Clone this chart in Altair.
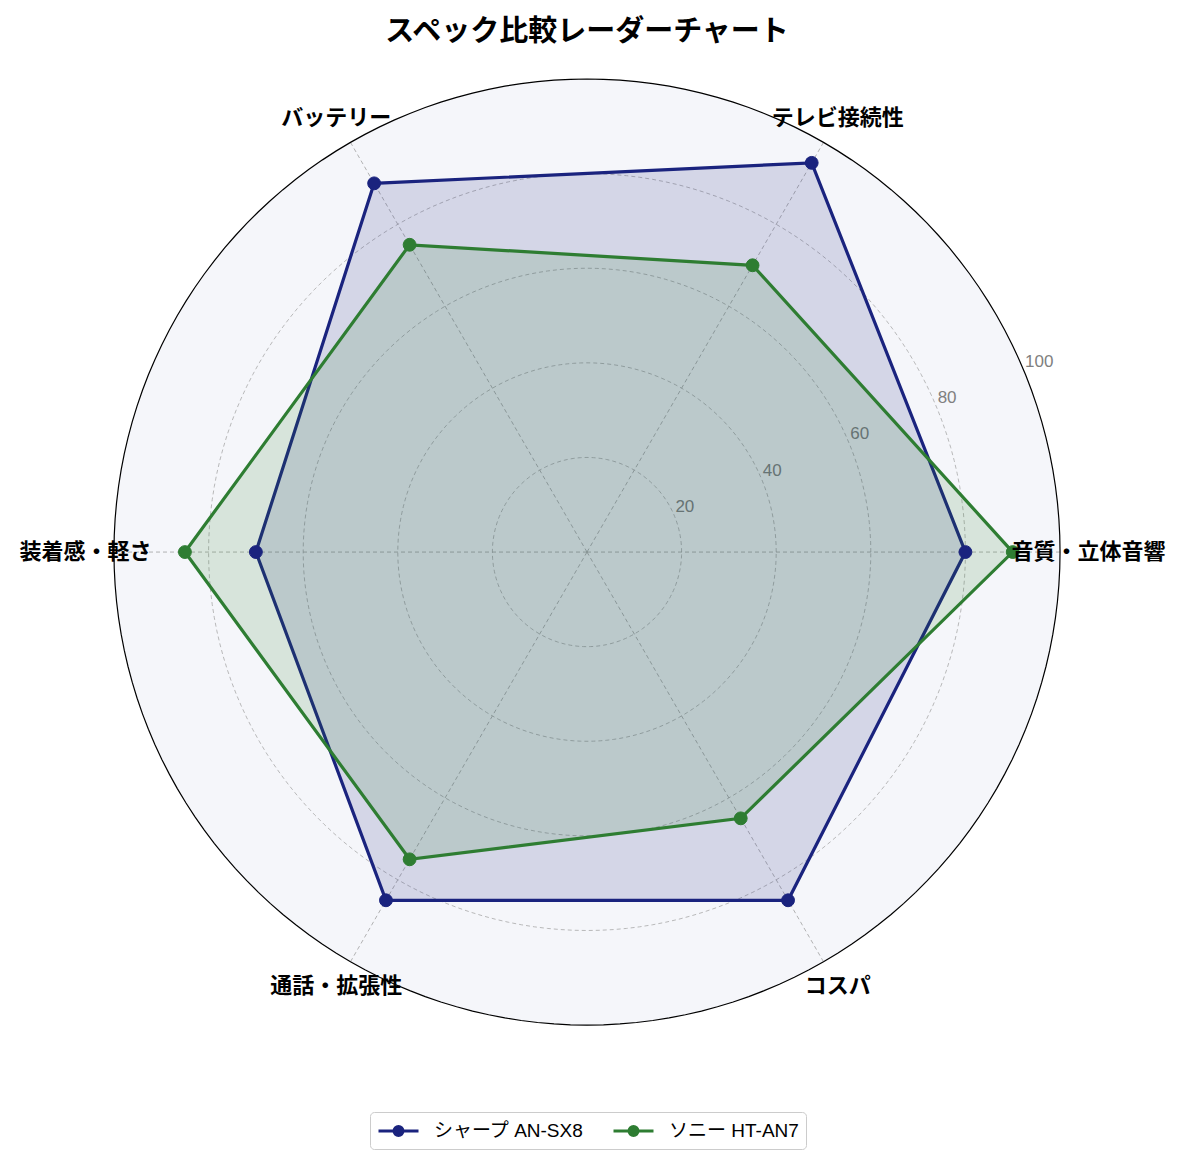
import altair as alt
import pandas as pd

# ---------------- data ----------------
categories = ["音質・立体音響", "テレビ接続性", "バッテリー", "装着感・軽さ", "通話・拡張性", "コスパ"]
series_names = ["シャープ AN-SX8", "ソニー HT-AN7"]
sharp_values = [80, 95, 90, 70, 85, 85]
sony_values = [90, 70, 75, 85, 75, 65]
radial_ticks = [20, 40, 60, 80, 100]

# ---------------- style ----------------
series_colors = ["#1a237e", "#2e7d32"]
FONT = "Noto Sans CJK JP"
LATIN_FONT = "Liberation Sans, Noto Sans CJK JP"
N = len(categories)
RMAX = radial_ticks[-1]
LABEL_R = 106
TICK_ANGLE_DEG = 22.5

PX_PER_UNIT = 4.73
X_DOM = [-122.4, 122.4]
Y_DOM = [-126.4, 104.65]
W = round((X_DOM[1] - X_DOM[0]) * PX_PER_UNIT)
H = round((Y_DOM[1] - Y_DOM[0]) * PX_PER_UNIT)

# ---------------- tables ----------------
rows = []
for s, vals in zip(series_names, [sharp_values, sony_values]):
    for i, v in enumerate(vals):
        rows.append({"series": s, "idx": i, "value": v})
df = pd.DataFrame(rows)
cat_df = pd.DataFrame({"category": categories, "idx": list(range(N))})
tick_df = pd.DataFrame({"tick": radial_ticks})
circle_df = pd.DataFrame([{"r": t, "deg": d} for t in radial_ticks for d in range(0, 360, 2)])

ANG = f"datum.idx * 2 * PI / {N}"

xs = alt.Scale(domain=X_DOM, nice=False, zero=False)
ys = alt.Scale(domain=Y_DOM, nice=False, zero=False)


def XY(xf="x", yf="y"):
    return dict(
        x=alt.X(f"{xf}:Q", scale=xs, axis=None),
        y=alt.Y(f"{yf}:Q", scale=ys, axis=None),
    )


circ = alt.Chart(circle_df).transform_calculate(
    x="datum.r * cos(datum.deg * PI / 180)",
    y="datum.r * sin(datum.deg * PI / 180)",
)

bg = circ.transform_filter(f"datum.r == {RMAX}").mark_line(
    interpolate="linear-closed", fill="#f5f6fa", strokeOpacity=0
).encode(order="deg:Q", **XY())

grid = circ.transform_filter(f"datum.r < {RMAX}").mark_line(
    interpolate="linear-closed", stroke="#a8a8a8", strokeWidth=0.8, strokeDash=[4, 3]
).encode(detail="r:N", order="deg:Q", **XY())

outer = circ.transform_filter(f"datum.r == {RMAX}").mark_line(
    interpolate="linear-closed", stroke="#000000", strokeWidth=1.2
).encode(order="deg:Q", **XY())

spokes = alt.Chart(cat_df).transform_calculate(
    x0="0", y0="0",
    x1=f"{RMAX} * cos({ANG})",
    y1=f"{RMAX} * sin({ANG})",
).mark_rule(stroke="#a0a0a0", strokeWidth=0.8, strokeDash=[4, 3]).encode(
    x=alt.X("x0:Q", scale=xs, axis=None),
    y=alt.Y("y0:Q", scale=ys, axis=None),
    x2="x1:Q",
    y2="y1:Q",
)

tick_labels = alt.Chart(tick_df).transform_calculate(
    x=f"datum.tick * cos({TICK_ANGLE_DEG} * PI / 180)",
    y=f"datum.tick * sin({TICK_ANGLE_DEG} * PI / 180)",
).mark_text(
    align="left", baseline="bottom", color="#808080", fontSize=17, font=LATIN_FONT, dx=1
).encode(text="tick:Q", **XY())

data_xy = alt.Chart(df).transform_calculate(
    x=f"datum.value * cos({ANG})",
    y=f"datum.value * sin({ANG})",
)

polys = []
for name, col in zip(series_names, series_colors):
    polys.append(
        data_xy.transform_filter(alt.datum.series == name).mark_line(
            interpolate="linear-closed", fill=col, fillOpacity=0.15,
            stroke=col, strokeWidth=3.2,
        ).encode(order="idx:Q", **XY())
    )

cscale = alt.Scale(domain=series_names, range=series_colors)
sym_path = "M-1,0L3,0M1.45,0A0.45,0.45,0,1,1,0.55,0A0.45,0.45,0,1,1,1.45,0Z"
leg = alt.Legend(
    title=None, orient="none", legendX=362, legendY=1055, direction="horizontal",
    symbolType=sym_path, symbolSize=400, symbolStrokeWidth=3,
    labelFontSize=19, labelFont=LATIN_FONT, labelColor="#000000", labelOffset=34,
    columnPadding=23, padding=7, strokeColor="#cccccc", fillColor="#ffffff",
    cornerRadius=4, symbolOpacity=1,
)

points = data_xy.mark_point(filled=True, size=165, opacity=1, strokeWidth=1).encode(
    fill=alt.Fill("series:N", scale=cscale, legend=leg),
    stroke=alt.Stroke("series:N", scale=cscale, legend=leg),
    **XY(),
)

cat_labels = alt.Chart(cat_df).transform_calculate(
    x=f"{LABEL_R} * cos({ANG})",
    y=f"{LABEL_R} * sin({ANG})",
).mark_text(
    align="center", baseline="middle", fontSize=22, fontWeight="bold", font=FONT, color="#000000"
).encode(text="category:N", **XY())

chart = alt.layer(
    bg, grid, spokes, tick_labels, *polys, points, outer, cat_labels
).properties(
    width=W,
    height=H,
    padding={"top": 10, "left": 0, "right": 0, "bottom": 0},
    title=alt.TitleParams(
        "スペック比較レーダーチャート", fontSize=29, fontWeight="bold", font=FONT,
        anchor="middle", offset=10, color="#000000",
    ),
).configure_view(stroke=None)

chart.save("out.html", embed_options={"renderer": "svg", "actions": False})
